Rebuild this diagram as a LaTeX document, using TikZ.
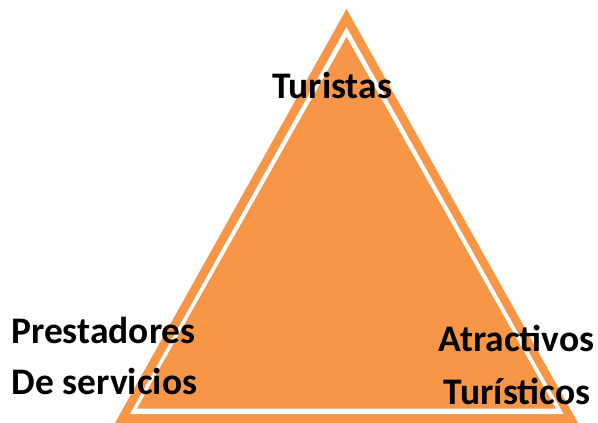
\documentclass[tikz,border=0pt]{standalone}
\usepackage{fontspec}
\setmainfont{Carlito}
\definecolor{tri}{HTML}{F79646}
\tikzset{
  lab/.style={anchor=base,inner sep=0pt,text=black,font=\fontsize{37.5}{44}\selectfont\bfseries},
  tripart/.style={fill=#1,draw=none}
}
\begin{document}
\begin{tikzpicture}[x=1pt,y=-1pt]
\useasboundingbox[fill=white] (0,0) rectangle (598,423);
\fill[tripart=tri] (346.5,9) -- (578,423) -- (115,423) -- cycle;
\fill[tripart=white] (346.5,27) -- (563.5,414) -- (130,414) -- cycle;
\fill[tripart=tri] (346.5,37) -- (556,408.5) -- (137,408.5) -- cycle;
\node[lab] (t) at (332,98) {Turistas};
\node[lab] (p) at (103.5,343) {Prestadores};
\node[lab] (d) at (104.5,394) {De servicios};
\node[lab] (a) at (516.5,351) {Atractivos};
\node[lab] (u) at (517,404) {Turísticos};
\end{tikzpicture}
\end{document}
